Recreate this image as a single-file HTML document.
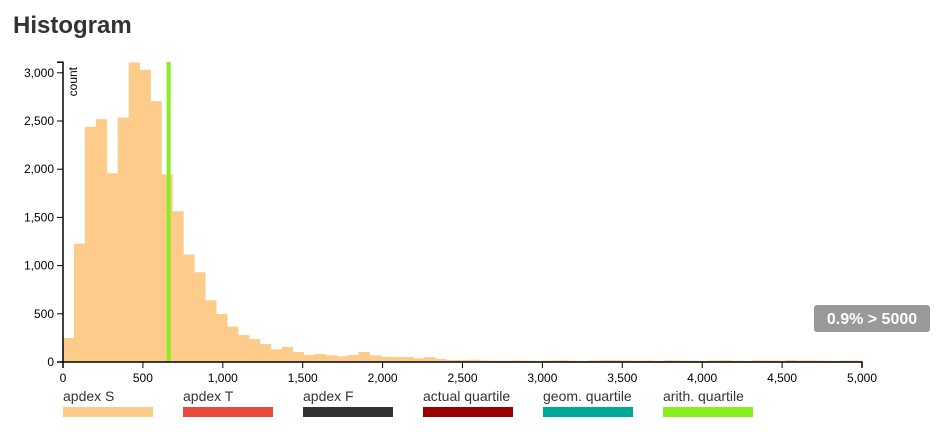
<!DOCTYPE html>
<html><head><meta charset="utf-8"><style>
body{margin:0;background:#fff;font-family:"Liberation Sans",sans-serif;}
svg text{font-family:"Liberation Sans",sans-serif;}
</style></head><body>
<svg width="943" height="428">
<text x="13" y="33" font-size="24" font-weight="bold" fill="#333">Histogram</text>
<g id="bars"></g>
<g id="yaxis"></g>
<g id="xaxis"></g>
<text transform="translate(77,67) rotate(-90)" text-anchor="end" font-size="12" fill="#000">count</text>
<rect x="814" y="305" width="116" height="27" rx="3" fill="#999"/>
<text x="872" y="324" text-anchor="middle" font-size="16" font-weight="bold" fill="#fff">0.9% &gt; 5000</text>
<g id="legend"></g>
</svg>
<script>
const counts=[249,1228,2439,2519,1958,2536,3107,3031,2706,1948,1564,1114,931,640,498,367,280,239,187,131,156,104,73,83,69,59,73,104,69,55,52,52,38,52,31,21,21,24,17,14,14,16,14,12,16,18,14,12,16,20,18,16,14,16,12,18,16,14,12,16,18,14,12,18,16,14,20,16,16,14,12,16,14];
const xTicks=[0,500,1000,1500,2000,2500,3000,3500,4000,4500,5000];
const yTicks=[0,500,1000,1500,2000,2500,3000];
const arithQuartile=[661];
const legendLabels=["apdex S","apdex T","apdex F","actual quartile","geom. quartile","arith. quartile"];
const legendColors=["#fdcb8a","#e74c3c","#333333","#990000","#00a896","#88ee22"];
const NS="http://www.w3.org/2000/svg";
const x=v=>63+v*(799/5000);
const y=v=>362-v*(299.7/3109);
function mk(t,a,p){const e=document.createElementNS(NS,t);for(const k in a)e.setAttribute(k,a[k]);p.appendChild(e);return e;}
const bw=5000/counts.length;
const bars=document.getElementById('bars');
counts.forEach((c,i)=>{const r=mk('rect',{x:x(i*bw),y:y(c),width:x((i+1)*bw)-x(i*bw)+0.3,height:362-y(c),fill:'#fdcb8a'},bars);

});
arithQuartile.forEach(v=>{const l=mk('rect',{x:x(v)-2,y:62,width:4,height:300,fill:'#88ee22'},bars);

});
const ya=document.getElementById('yaxis');
mk('path',{d:'M57,62.3H63V362H57',fill:'none',stroke:'#000','stroke-width':1.5},ya);
yTicks.forEach(t=>{mk('line',{x1:57,x2:63,y1:y(t),y2:y(t),stroke:'#000'},ya);
const tx=mk('text',{x:54,y:y(t)+4,'text-anchor':'end','font-size':12},ya);tx.textContent=t.toLocaleString('en-US');

});
const xa=document.getElementById('xaxis');
mk('path',{d:'M63,368V362H862V368',fill:'none',stroke:'#000','stroke-width':1.5},xa);
xTicks.forEach(t=>{mk('line',{x1:x(t),x2:x(t),y1:362,y2:368,stroke:'#000'},xa);
const tx=mk('text',{x:x(t),y:382,'text-anchor':'middle','font-size':12},xa);tx.textContent=t.toLocaleString('en-US');

});
const lg=document.getElementById('legend');
legendLabels.forEach((s,i)=>{const g=mk('g',{},lg);


const t=mk('text',{x:63+i*120,y:401,'font-size':14,fill:'#333'},g);t.textContent=s;
mk('rect',{x:63+i*120,y:407,width:90,height:10,fill:legendColors[i]},g);});
</script>
</body></html>
